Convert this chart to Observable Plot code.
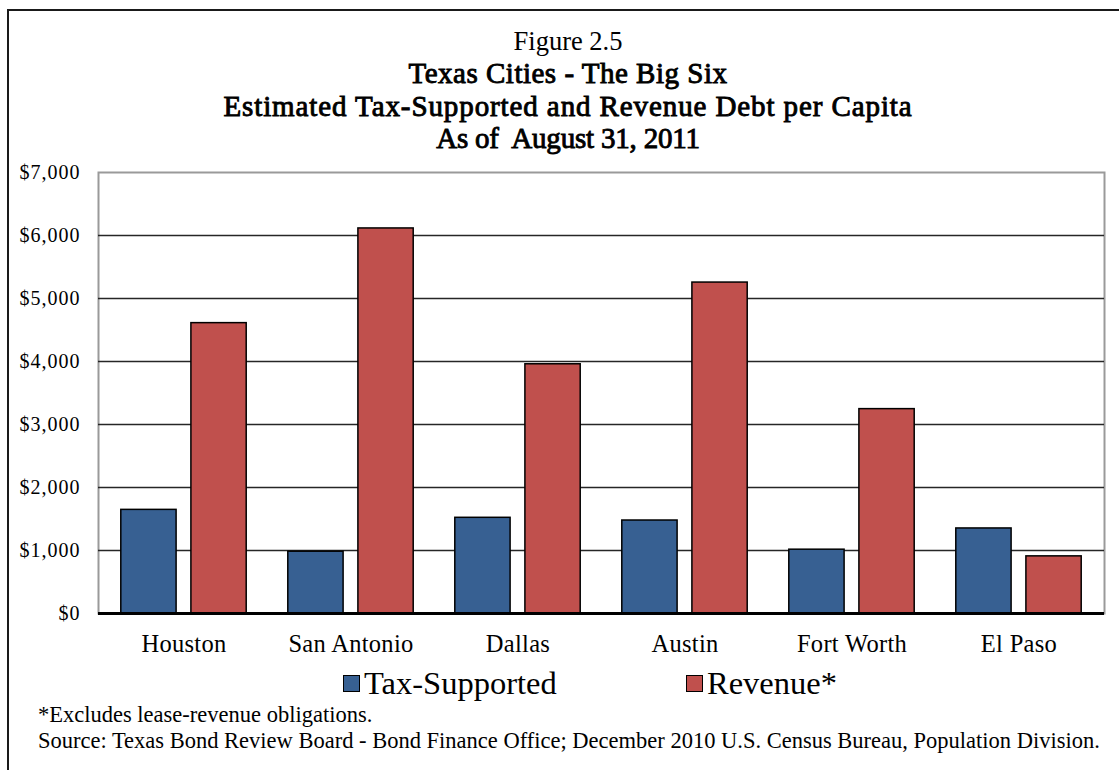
<!DOCTYPE html>
<html>
<head>
<meta charset="utf-8">
<script src="https://cdn.jsdelivr.net/npm/d3@7"></script>
<script src="https://cdn.jsdelivr.net/npm/@observablehq/plot@0.6"></script>
<style>
  html, body { margin: 0; padding: 0; background: #fff; }
  body { width: 1119px; height: 770px; position: relative; overflow: hidden; font-family: "Liberation Serif", "Times New Roman", serif; color: #000; }
  #outer { position: absolute; left: 7px; top: 9px; width: 1200px; height: 800px; border-left: 2px solid #1a1a1a; border-top: 2px solid #1a1a1a; }
  .t { position: absolute; left: 0; width: 1136px; text-align: center; white-space: nowrap; font-family: "Liberation Serif", serif; }
  .b { font-weight: normal; -webkit-text-stroke: 0.9px #000; font-size: 29px; }
  #fig { top: 26px; font-size: 26.5px; }
  #t1 { top: 57px; letter-spacing: 0.5px; }
  #t2 { top: 90px; letter-spacing: 0.9px; }
  #t3 { top: 122px; letter-spacing: -0.2px; }
  #chart { position: absolute; left: 0; top: 160px; }
  .leg { position: absolute; top: 664px; font-size: 32.5px; white-space: nowrap; line-height: 38px; }
  .sw { display: inline-block; width: 15px; height: 15px; border: 1.5px solid #000; vertical-align: middle; margin-right: 4px; position: relative; top: -3px; }
  .note { position: absolute; left: 38px; font-size: 22.5px; white-space: nowrap; }
</style>
</head>
<body>
<div id="outer"></div>
<div class="t" id="fig">Figure 2.5</div>
<div class="t b" id="t1">Texas Cities - The Big Six</div>
<div class="t b" id="t2">Estimated Tax-Supported and Revenue Debt per Capita</div>
<div class="t b" id="t3">As of&nbsp; August 31, 2011</div>
<div id="chart"></div>
<div id="legend"></div>
<div class="note" style="top:702px">*Excludes lease-revenue obligations.</div>
<div class="note" style="top:728px">Source: Texas Bond Review Board - Bond Finance Office; December 2010 U.S. Census Bureau, Population Division.</div>
<script>
const cities = ["Houston", "San Antonio", "Dallas", "Austin", "Fort Worth", "El Paso"];
const taxSupported = [1645, 981, 1519, 1476, 1013, 1350];
const revenue = [4609, 6112, 3956, 5253, 3244, 907];
const seriesNames = ["Tax-Supported", "Revenue*"];
const seriesColors = ["#376092", "#C0504D"];
const yTicks = [0, 1000, 2000, 3000, 4000, 5000, 6000, 7000];
const gridTicks = [1000, 2000, 3000, 4000, 5000, 6000];

const rows = [];
cities.forEach((c, i) => {
  rows.push({city: c, series: seriesNames[0], value: taxSupported[i]});
  rows.push({city: c, series: seriesNames[1], value: revenue[i]});
});

const chart = Plot.plot({
  width: 1119,
  height: 500,
  marginLeft: 98,
  marginRight: 15,
  marginTop: 12,
  marginBottom: 47,
  style: {fontFamily: "'Liberation Serif', 'Times New Roman', serif", fontSize: "20px", color: "#000", background: "transparent"},
  x: {domain: cities, padding: 0, label: null, tickSize: 0, tickPadding: 21},
  y: {domain: [0, 7000], ticks: yTicks, tickFormat: d => "$" + d3.format(",")(d), label: null, tickSize: 0, tickPadding: 18},
  color: {domain: seriesNames, range: seriesColors},
  marks: [
    Plot.frame({stroke: "#9a9a9a", strokeWidth: 2}),
    Plot.ruleY(gridTicks, {stroke: "#262626", strokeWidth: 1.6}),
    Plot.barY(rows.filter(d => d.series === seriesNames[0]), {x: "city", y: "value", fill: "series", stroke: "#000", strokeWidth: 1.5, insetLeft: 20.8, insetRight: 90.9}),
    Plot.barY(rows.filter(d => d.series === seriesNames[1]), {x: "city", y: "value", fill: "series", stroke: "#000", strokeWidth: 1.5, insetLeft: 90.9, insetRight: 20.8}),
    Plot.ruleY([0], {stroke: "#000", strokeWidth: 3})
  ]
});
chart.querySelectorAll("[aria-label='x-axis tick label']").forEach(n => { n.setAttribute("font-size", "24.5px"); n.style.letterSpacing = "0.3px"; });
chart.querySelectorAll("[aria-label='y-axis tick label']").forEach(n => n.style.letterSpacing = "1px");
document.getElementById("chart").appendChild(chart);

const legend = document.getElementById("legend");
const legPos = [343, 686];
seriesNames.forEach((s, i) => {
  const d = document.createElement("div");
  d.className = "leg";
  d.style.left = legPos[i] + "px";
  const sw = document.createElement("span");
  sw.className = "sw";
  sw.style.background = seriesColors[i];
  d.appendChild(sw);
  d.appendChild(document.createTextNode(s));
  legend.appendChild(d);
});
</script>
</body>
</html>
